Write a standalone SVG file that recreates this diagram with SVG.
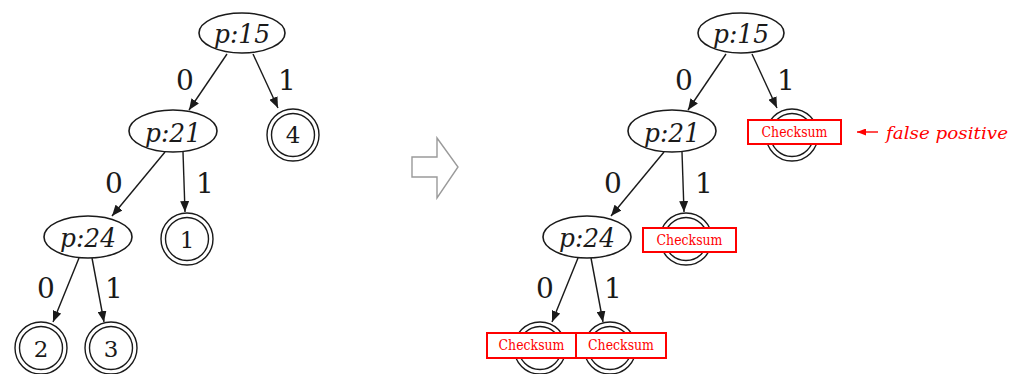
<svg xmlns="http://www.w3.org/2000/svg" width="1017" height="374" viewBox="0 0 1017 374">
<defs>
<marker id="ah" markerUnits="userSpaceOnUse" markerWidth="11" markerHeight="9" refX="11" refY="4.5" orient="auto"><path d="M0,0 L11,4.5 L0,9 z" fill="#1a1a1a"/></marker>
<marker id="ahr" markerUnits="userSpaceOnUse" markerWidth="9" markerHeight="7" refX="9" refY="3.5" orient="auto"><path d="M0,0 L9,3.5 L0,7 z" fill="#ff0000"/></marker>
<style>
.ell{fill:#fff;stroke:#1a1a1a;stroke-width:1.6}
.c{fill:#fff;stroke:#1a1a1a;stroke-width:1.4}
.e{stroke:#1a1a1a;stroke-width:1.4;fill:none;marker-end:url(#ah)}
.pt{font-family:'DejaVu Serif','Liberation Serif',serif;font-style:italic;font-size:26px;fill:#1a1a1a;text-anchor:middle}
.lb{font-family:'DejaVu Serif','Liberation Serif',serif;font-size:28px;fill:#1a1a1a;text-anchor:middle}
.lf{font-family:'DejaVu Serif','Liberation Serif',serif;font-size:23px;fill:#1a1a1a;text-anchor:middle}
.ck{fill:#fff;stroke:#ff0000;stroke-width:2}
.ct{font-family:'DejaVu Serif','Liberation Serif',serif;font-size:14px;fill:#ff0000;text-anchor:middle}
.fp{font-family:'DejaVu Serif','Liberation Serif',serif;font-style:italic;font-size:17px;fill:#ff0000}
</style>
</defs>
<rect width="1017" height="374" fill="#fff"/>

<g id="connectors">
<line class="e" x1="227" y1="54" x2="189" y2="110"/>
<line class="e" x1="253" y1="54" x2="278" y2="108"/>
<line class="e" x1="165" y1="152" x2="112" y2="216"/>
<line class="e" x1="183" y1="152" x2="185" y2="212"/>
<line class="e" x1="79" y1="258" x2="53" y2="322"/>
<line class="e" x1="92" y1="258" x2="104" y2="322"/>
<line class="e" x1="726" y1="54" x2="688" y2="110"/>
<line class="e" x1="752" y1="54" x2="777" y2="108"/>
<line class="e" x1="664" y1="152" x2="611" y2="216"/>
<line class="e" x1="682" y1="152" x2="684" y2="212"/>
<line class="e" x1="578" y1="258" x2="552" y2="322"/>
<line class="e" x1="591" y1="258" x2="603" y2="322"/>
<text class="lb" x="185" y="90">0</text>
<text class="lb" x="287" y="90">1</text>
<text class="lb" x="114" y="193">0</text>
<text class="lb" x="205" y="193">1</text>
<text class="lb" x="46" y="298">0</text>
<text class="lb" x="114" y="298">1</text>
<text class="lb" x="684" y="90">0</text>
<text class="lb" x="786" y="90">1</text>
<text class="lb" x="613" y="193">0</text>
<text class="lb" x="704" y="193">1</text>
<text class="lb" x="545" y="298">0</text>
<text class="lb" x="613" y="298">1</text>
</g>

<g id="L-p15"><ellipse class="ell" cx="242" cy="33" rx="43" ry="20"/><text class="pt" x="242" y="43" textLength="56" lengthAdjust="spacingAndGlyphs">p:15</text></g>
<g id="L-p21"><ellipse class="ell" cx="173" cy="131" rx="44" ry="21"/><text class="pt" x="173" y="142" textLength="56" lengthAdjust="spacingAndGlyphs">p:21</text></g>
<g id="L-p24"><ellipse class="ell" cx="88" cy="237" rx="44" ry="21"/><text class="pt" x="88" y="247" textLength="56" lengthAdjust="spacingAndGlyphs">p:24</text></g>
<g id="L-4"><circle class="c" cx="293" cy="135" r="26"/><circle class="c" cx="293" cy="135" r="21.5"/><text class="lf" x="293" y="143">4</text></g>
<g id="L-1"><circle class="c" cx="187" cy="239" r="26"/><circle class="c" cx="187" cy="239" r="21.5"/><text class="lf" x="187" y="248">1</text></g>
<g id="L-2"><circle class="c" cx="41" cy="348" r="26"/><circle class="c" cx="41" cy="348" r="21.5"/><text class="lf" x="41" y="357">2</text></g>
<g id="L-3"><circle class="c" cx="111" cy="348" r="26"/><circle class="c" cx="111" cy="348" r="21.5"/><text class="lf" x="111" y="357">3</text></g>

<g id="transform-arrow"><polygon points="412,157 437,157 437,138 458,167 437,198 437,177 412,177" fill="#fff" stroke="#9a9a9a" stroke-width="1.4"/></g>

<g id="R-p15"><ellipse class="ell" cx="741" cy="33" rx="43" ry="20"/><text class="pt" x="741" y="43" textLength="56" lengthAdjust="spacingAndGlyphs">p:15</text></g>
<g id="R-p21"><ellipse class="ell" cx="672" cy="131" rx="44" ry="21"/><text class="pt" x="672" y="142" textLength="56" lengthAdjust="spacingAndGlyphs">p:21</text></g>
<g id="R-p24"><ellipse class="ell" cx="587" cy="237" rx="44" ry="21"/><text class="pt" x="587" y="247" textLength="56" lengthAdjust="spacingAndGlyphs">p:24</text></g>
<g id="R-4"><circle class="c" cx="792" cy="135" r="26"/><circle class="c" cx="792" cy="135" r="21.5"/><rect class="ck" x="748" y="120" width="93" height="24"/><text class="ct" x="794.5" y="137" textLength="66" lengthAdjust="spacingAndGlyphs">Checksum</text></g>
<g id="R-1"><circle class="c" cx="686" cy="239" r="26"/><circle class="c" cx="686" cy="239" r="21.5"/><rect class="ck" x="643" y="228" width="93" height="24"/><text class="ct" x="689.5" y="245" textLength="66" lengthAdjust="spacingAndGlyphs">Checksum</text></g>
<g id="R-2"><circle class="c" cx="540" cy="348" r="26"/><circle class="c" cx="540" cy="348" r="21.5"/><rect class="ck" x="487" y="333" width="89" height="25"/><text class="ct" x="531.5" y="350" textLength="66" lengthAdjust="spacingAndGlyphs">Checksum</text></g>
<g id="R-3"><circle class="c" cx="610" cy="348" r="26"/><circle class="c" cx="610" cy="348" r="21.5"/><rect class="ck" x="576" y="333" width="90" height="25"/><text class="ct" x="621" y="350" textLength="66" lengthAdjust="spacingAndGlyphs">Checksum</text></g>

<g id="false-positive">
<line x1="878" y1="132" x2="857" y2="132" stroke="#ff0000" stroke-width="1.4" marker-end="url(#ahr)"/>
<text class="fp" x="886" y="139" textLength="122" lengthAdjust="spacingAndGlyphs">false positive</text>
</g>
</svg>
